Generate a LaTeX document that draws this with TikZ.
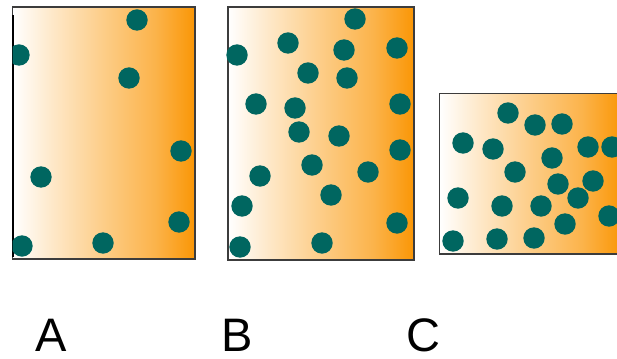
\documentclass[tikz,border=0pt]{standalone}
\usepackage{fontspec}
\setmainfont{Liberation Sans}
\definecolor{heat}{RGB}{250,150,5}
\definecolor{particle}{RGB}{0,102,96}
\definecolor{rim}{RGB}{60,60,60}
% the path is fitted to the 25bp--75bp band of the shading
\pgfdeclarehorizontalshading{heatfade}{100bp}{
  color(0bp)=(white);
  color(25bp)=(white);
  color(36bp)=(heat!22!white);
  color(50bp)=(heat!48!white);
  color(64bp)=(heat!72!white);
  color(75bp)=(heat);
  color(100bp)=(heat)}
\tikzset{
  chamber/.style={shading=heatfade, draw=rim, line width=1.4pt},
  particle/.style={fill=particle},
  caption/.style={anchor=base, font=\fontsize{47}{50}\selectfont, inner sep=0pt}
}
\begin{document}
\begin{tikzpicture}[x=1pt,y=-1pt]
\useasboundingbox (0,0) rectangle (617,358);
\begin{scope}
\clip (0,0) rectangle (617,358);
% container A (left side cut off)
\path[chamber] (12.7,7) rectangle (195,259);
\draw[black, line width=2.4pt] (12.7,15) -- (12.7,257);
\begin{scope}
\clip (12.7,0) rectangle (200,358);
\foreach \p in {(137,20),(19,55),(129,78),(181,151),(41,177),(179,222),(22,246),(103,243)}
  \fill[particle] \p circle[radius=10.7];
\end{scope}
% container B
\path[chamber] (228,7) rectangle (414,260);
\foreach \p in {(355,19),(288,43),(237,55),(344,50),(397,48),(308,73),(347,78),(256,104),
                (295,108),(400,104),(299,132),(339,136),(400,150),(260,176),(312,165),
                (368,172),(331,195),(242,206),(397,223),(240,247),(322,243)}
  \fill[particle] \p circle[radius=10.7];
% container C (right side runs off the page)
\path[chamber] (439.5,93.5) rectangle (622,254);
\foreach \p in {(508,113),(535,125),(562,124),(463,143),(493,149),(588,147),(612,147),
                (552,158),(515,172),(558,184),(593,181),(578,198),(458,198),(502,206),
                (541,206),(609,216),(565,224),(453,241),(497,239),(534,238)}
  \fill[particle] \p circle[radius=10.7];
\end{scope}
% captions
\node[caption] (labA) at (51.5,351.5) {A};
\node[caption] (labB) at (237,351.5) {B};
\node[caption] (labC) at (423,351.5) {C};
\end{tikzpicture}
\end{document}
